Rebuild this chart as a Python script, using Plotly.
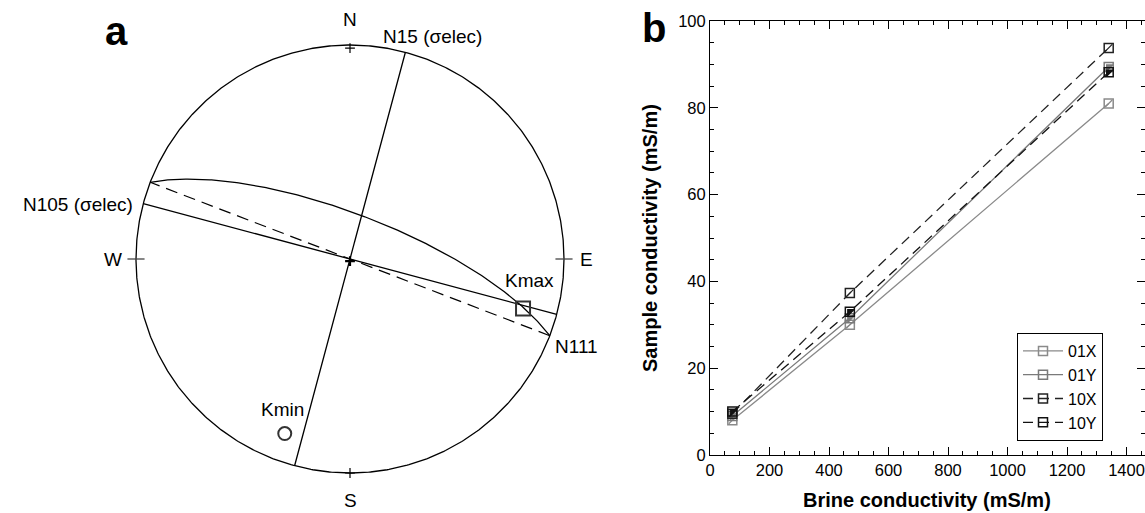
import numpy as np
import plotly.graph_objects as go

# ---------------- data: panel b ----------------
brine = [75, 470, 1340]
s01X = [8.0, 30.0, 81.0]
s01Y = [9.0, 31.5, 89.4]
s10X = [9.5, 37.3, 93.8]
s10Y = [10.0, 33.0, 88.2]
series_names = ["01X", "01Y", "10X", "10Y"]

# ---------------- data: panel a (stereonet) ----------------
vertical_strikes = [15, 105]        # solid vertical planes
dashed_strike = 111                  # dashed vertical plane
curve_strike, curve_dip = 291, 73    # inclined great circle
kmax_trend, kmax_plunge = 106, 17
kmin_trend, kmin_plunge = 200.5, 14

FONT = "Liberation Sans, Arial, sans-serif"
W, H = 1145, 513


def project(trend_deg, plunge_deg):
    t = np.radians(trend_deg)
    p = np.radians(plunge_deg)
    r = np.sqrt(2) * np.sin((np.pi / 2 - p) / 2)
    return r * np.sin(t), r * np.cos(t)


def great_circle(strike, dip, n=241):
    s = np.radians(strike)
    d = np.radians(dip)
    a = np.radians(np.linspace(0, 180, n))
    sv = np.array([np.sin(s), np.cos(s), 0.0])
    dd = s + np.pi / 2
    dv = np.array([np.cos(d) * np.sin(dd), np.cos(d) * np.cos(dd), np.sin(d)])
    v = np.outer(np.cos(a), sv) + np.outer(np.sin(a), dv)
    plunge = np.degrees(np.arcsin(np.clip(v[:, 2], -1, 1)))
    trend = np.degrees(np.arctan2(v[:, 0], v[:, 1]))
    return project(trend, plunge)


fig = go.Figure()

# ---------------- panel b traces ----------------
styles = {
    "01X": dict(color="#8a8a8a", dash="solid", over="line-ne"),
    "01Y": dict(color="#7a7a7a", dash="solid", over="triangle-nw"),
    "10X": dict(color="#222222", dash="10px,6px", over="line-ne"),
    "10Y": dict(color="#111111", dash="10px,6px", over="triangle-nw"),
}
values = {"01X": s01X, "01Y": s01Y, "10X": s10X, "10Y": s10Y}
for name in series_names:
    st = styles[name]
    fig.add_trace(go.Scatter(
        x=brine, y=values[name], name=name, mode="lines+markers",
        line=dict(color=st["color"], width=1.3, dash=st["dash"]),
        marker=dict(symbol="square-open", size=9, color=st["color"],
                    line=dict(width=1.5, color=st["color"])),
        xaxis="x", yaxis="y"))
    fig.add_trace(go.Scatter(
        x=brine, y=values[name], mode="markers", showlegend=False,
        marker=dict(symbol=st["over"], size=7, color=st["color"],
                    line=dict(width=1.2, color=st["color"])),
        xaxis="x", yaxis="y", hoverinfo="skip"))

# ---------------- panel a traces ----------------
def add2(x, y, **kw):
    fig.add_trace(go.Scatter(x=x, y=y, xaxis="x2", yaxis="y2", showlegend=False,
                             hoverinfo="skip", **kw))

th = np.linspace(0, 2 * np.pi, 721)
add2(np.cos(th), np.sin(th), mode="lines", line=dict(color="black", width=1.3))
for s in vertical_strikes:
    gx, gy = great_circle(s, 90)
    add2(gx, gy, mode="lines", line=dict(color="black", width=1.3))
gx, gy = great_circle(dashed_strike, 90)
add2(gx, gy, mode="lines", line=dict(color="black", width=1.2, dash="12px,7px"))
gx, gy = great_circle(curve_strike, curve_dip)
add2(gx, gy, mode="lines", line=dict(color="black", width=1.3))

for sx in (-1, 1):
    add2([sx * 0.96, sx * 1.04], [0, 0], mode="lines", line=dict(color="#444444", width=1.3))
add2([0, 0], [0.985, -1.0], mode="markers",
     marker=dict(symbol="cross-thin", size=7, color="black", line=dict(width=1.2, color="black")))
add2([0], [-0.01], mode="markers",
     marker=dict(symbol="cross-thin", size=7, color="black", line=dict(width=2.2, color="black")))
kx, ky = project(kmax_trend, kmax_plunge)
add2([kx], [ky], mode="markers",
     marker=dict(symbol="square-open", size=14, color="#333333", line=dict(width=2, color="#333333")))
nx, ny = project(kmin_trend, kmin_plunge)
add2([nx], [ny], mode="markers",
     marker=dict(symbol="circle-open", size=13, color="#333333", line=dict(width=2, color="#333333")))

# ---------------- annotations ----------------
ann = []


def a2(text, x, y, xanchor="center", yanchor="middle", size=19):
    ann.append(dict(text=text, x=x, y=y, xref="x2", yref="y2", showarrow=False,
                    xanchor=xanchor, yanchor=yanchor,
                    font=dict(family=FONT, size=size, color="black")))


a2("N", 0, 1.117)
a2("S", 0, -(H - 259) / 214, yanchor="bottom")
a2("W", -1.107, 0)
a2("E", 1.103, 0)
a2("N15 (σelec)", 0.145, 1.042, xanchor="left")
a2("N105 (σelec)", -1.005, 0.257, xanchor="right")
a2("N111", 0.949, -0.407, xanchor="left")
a2("Kmax", kx + 0.03, ky + 0.13)
a2("Kmin", nx - 0.01, ny + 0.11)


def ap(text, px, py, size, textangle=0):
    ann.append(dict(text=text, x=px / W, y=1 - py / H, xref="paper", yref="paper",
                    showarrow=False, xanchor="center", yanchor="middle", textangle=textangle,
                    font=dict(family=FONT, size=size, color="black")))


ap("<b>a</b>", 116, 31, 40)
ap("<b>b</b>", 654, 28, 40)
ap("<b>Brine conductivity (mS/m)</b>", 927, 500, 20)
ap("<b>Sample conductivity (mS/m)</b>", 650, 238, 20, textangle=-90)

axis_common = dict(showline=True, linecolor="black", linewidth=1, mirror="allticks",
                   ticks="inside", ticklen=8, tickwidth=1, tickcolor="black",
                   showgrid=False, zeroline=False, automargin=False,
                   ticklabeloverflow="allow",
                   tickfont=dict(family=FONT, size=16.5, color="black"))

fig.update_layout(
    template="none",
    width=W, height=H,
    margin=dict(l=0, r=0, t=0, b=0, pad=0, autoexpand=False),
    paper_bgcolor="white", plot_bgcolor="rgba(0,0,0,0)",
    font=dict(family=FONT, color="black"),
    xaxis=dict(domain=[710 / W, 1.0], range=[0, 1462], tick0=0, dtick=200,
               minor=dict(dtick=50, ticklen=4, ticks="inside", tickcolor="black"),
               anchor="y", **axis_common),
    yaxis=dict(domain=[58 / H, 492 / H], range=[0, 100], tick0=0, dtick=20,
               minor=dict(dtick=5, ticklen=4, ticks="inside", tickcolor="black"),
               anchor="x", **axis_common),
    xaxis2=dict(domain=[0, 687 / W], range=[-350 / 214, 337 / 214], visible=False,
                anchor="y2", fixedrange=True, automargin=False),
    yaxis2=dict(domain=[0, 1], range=[-(H - 259) / 214, 259 / 214], visible=False,
                anchor="x2", fixedrange=True, automargin=False),
    legend=dict(x=1017 / W, y=1 - 333 / H, xanchor="left", yanchor="top",
                bordercolor="black", borderwidth=1, bgcolor="white",
                font=dict(family=FONT, size=16, color="black"),
                tracegroupgap=0, itemwidth=40),
    annotations=ann,
    showlegend=True,
)

fig.write_html("out.html")
